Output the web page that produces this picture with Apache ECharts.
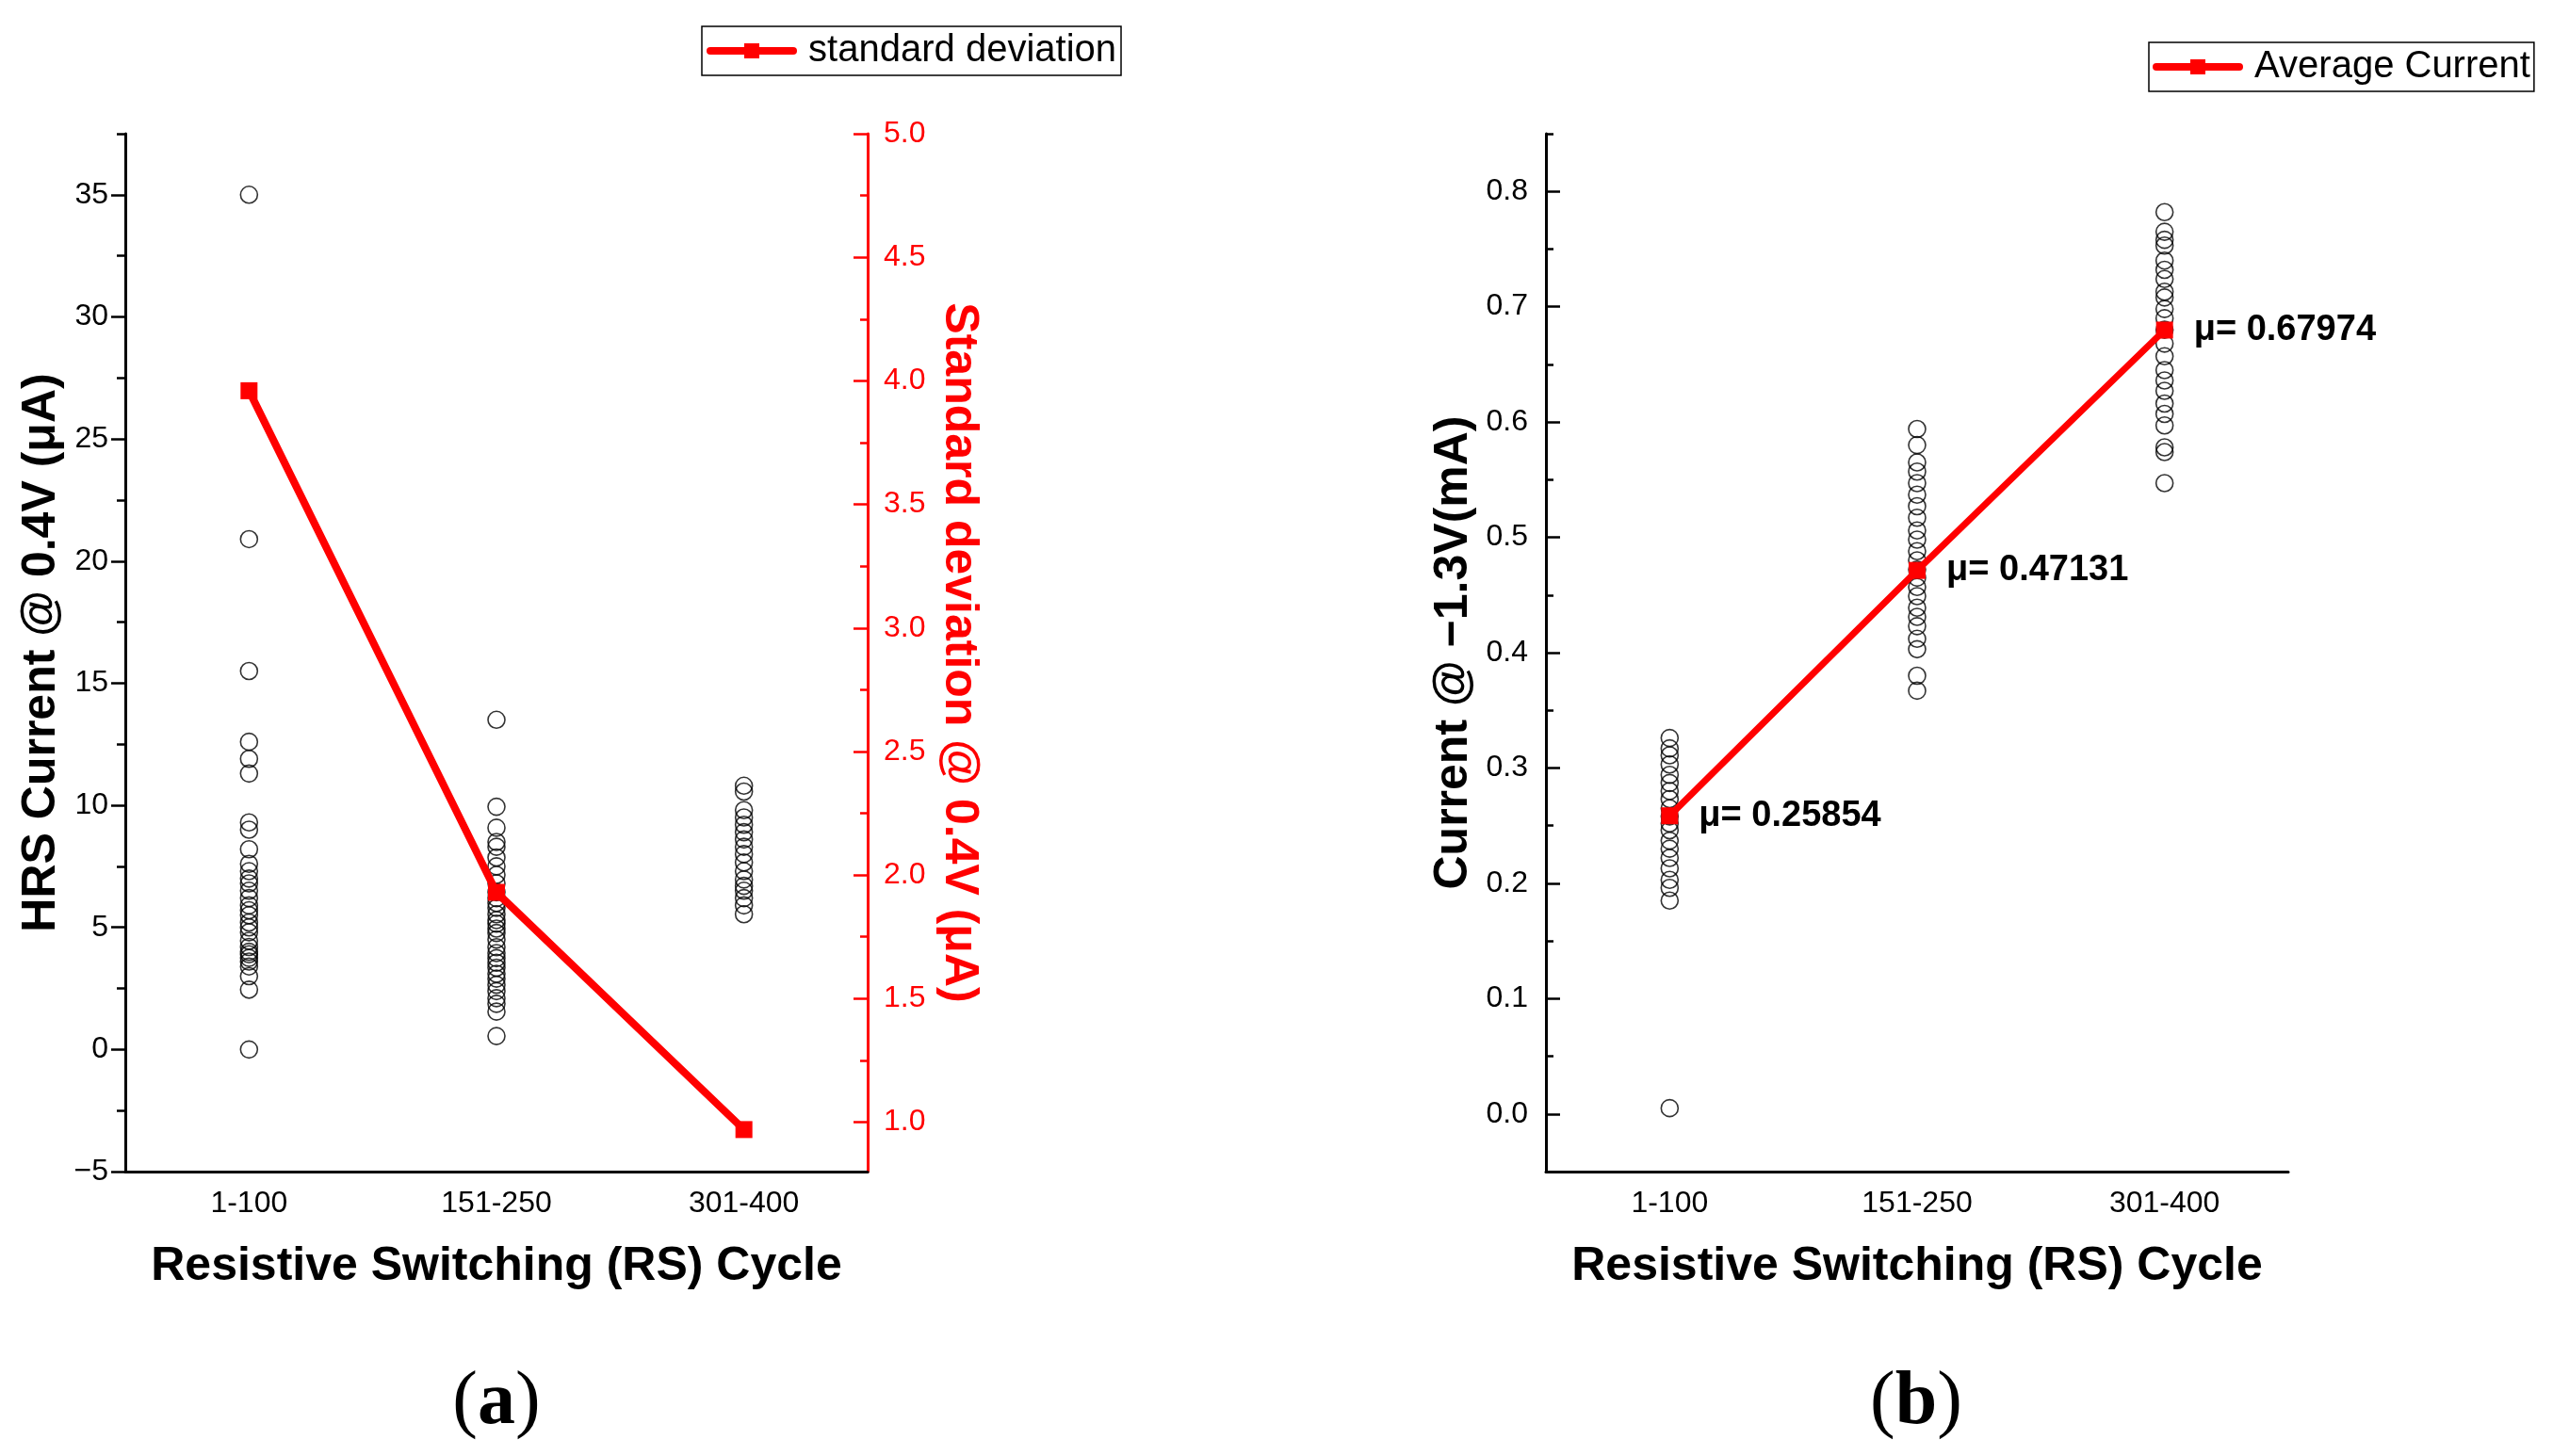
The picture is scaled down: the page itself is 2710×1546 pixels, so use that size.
<!DOCTYPE html>
<html>
<head>
<meta charset="utf-8">
<title>HRS current and average current vs RS cycle</title>
<script src="https://cdn.jsdelivr.net/npm/echarts@6/dist/echarts.min.js"></script>
<style>
  html, body { margin: 0; padding: 0; background: #fff; }
  #chart { width: 2710px; height: 1546px; }
</style>
</head>
<body>
<div id="chart"></div>
<script>
// categories (RS cycle ranges)
const cycles = ['1-100', '151-250', '301-400'];

// (a) HRS current @ 0.4V (uA), one list per cycle range
const hrsCycle1 = [35.0, 20.9, 15.5, 12.6, 11.9, 11.3, 9.3, 9.0, 8.2, 7.6, 7.3, 7.0, 6.8, 6.5, 6.2, 5.9, 5.7, 5.5, 5.2, 5.0, 4.8, 4.45, 4.2, 4.0, 3.9, 3.75, 3.6, 3.4, 3.0, 2.45, 0.0];
const hrsCycle2 = [13.5, 9.94, 9.08, 8.5, 8.3, 7.86, 7.5, 7.15, 6.8, 6.44, 6.2, 6.0, 5.8, 5.54, 5.3, 5.15, 4.95, 4.77, 4.5, 4.19, 3.95, 3.74, 3.55, 3.35, 3.1, 2.9, 2.65, 2.39, 2.1, 1.87, 1.55, 0.55];
const hrsCycle3 = [10.8, 10.56, 9.8, 9.5, 9.2, 8.9, 8.6, 8.3, 8.0, 7.66, 7.3, 6.96, 6.7, 6.5, 6.2, 5.9, 5.54];
const stdDev = [3.96, 1.93, 0.97];

// (b) current @ -1.3V (mA)
const curCycle1 = [0.326, 0.317, 0.311, 0.303, 0.294, 0.287, 0.280, 0.273, 0.265, 0.258, 0.252, 0.246, 0.237, 0.230, 0.222, 0.213, 0.203, 0.196, 0.185, 0.005];
const curCycle2 = [0.594, 0.580, 0.565, 0.557, 0.547, 0.537, 0.527, 0.517, 0.506, 0.498, 0.488, 0.480, 0.472, 0.465, 0.457, 0.449, 0.439, 0.431, 0.423, 0.412, 0.403, 0.380, 0.367];
const curCycle3 = [0.782, 0.765, 0.758, 0.753, 0.740, 0.732, 0.724, 0.713, 0.708, 0.698, 0.690, 0.680, 0.668, 0.657, 0.645, 0.636, 0.627, 0.616, 0.607, 0.597, 0.578, 0.574, 0.547];
const avgCurrent = [0.25854, 0.47131, 0.67974];

// tick values
const hrsTicks = [-5, 0, 5, 10, 15, 20, 25, 30, 35];
const hrsMinorTicks = [-2.5, 2.5, 7.5, 12.5, 17.5, 22.5, 27.5, 32.5, 37.5];
const stdTicks = [1.0, 1.5, 2.0, 2.5, 3.0, 3.5, 4.0, 4.5, 5.0];
const stdMinorTicks = [1.25, 1.75, 2.25, 2.75, 3.25, 3.75, 4.25, 4.75];
const curTicks = [0.0, 0.1, 0.2, 0.3, 0.4, 0.5, 0.6, 0.7, 0.8];
const curMinorTicks = [0.05, 0.15, 0.25, 0.35, 0.45, 0.55, 0.65, 0.75, 0.85];

const FONT = '"Liberation Sans", Arial, sans-serif';
const SERIF = '"Liberation Serif", "Times New Roman", serif';
const RED = '#ff0000';

function toPoints(groups) {
  let out = [];
  groups.forEach((arr, i) => arr.forEach(v => out.push([i, v])));
  return out;
}

function catAxis(gridIndex) {
  return {
    type: 'category',
    gridIndex,
    data: cycles,
    boundaryGap: true,
    name: 'Resistive Switching (RS) Cycle',
    nameLocation: 'middle',
    nameGap: 76,
    nameTextStyle: { fontFamily: FONT, fontSize: 50, fontWeight: 'bold', color: '#000' },
    axisLine: { onZero: false, lineStyle: { color: '#000', width: 3 } },
    axisTick: { alignWithLabel: true, inside: true, length: 15, lineStyle: { color: '#000', width: 2.5 } },
    axisLabel: { fontFamily: FONT, fontSize: 32, color: '#000', margin: 18 },
    splitLine: { show: false }
  };
}

function minorAxis(gridIndex, position, min, max, values, inside, length, color) {
  return {
    type: 'value',
    gridIndex,
    position,
    min,
    max,
    axisLine: { show: false },
    axisLabel: { show: false },
    axisTick: { show: true, inside, length, customValues: values, lineStyle: { color, width: 2.5 } },
    splitLine: { show: false }
  };
}

function caption(letter, x) {
  return {
    type: 'text', x, y: 1490,
    style: {
      text: '{p|(}{l|' + letter + '}{p|)}',
      align: 'center', verticalAlign: 'middle',
      rich: {
        p: { fontFamily: SERIF, fontSize: 80, color: '#000' },
        l: { fontFamily: SERIF, fontSize: 80, fontWeight: 'bold', color: '#000' }
      }
    }
  };
}

const minusFmt = v => String(v).replace('-', '\u2212');
const oneDecFmt = v => v.toFixed(1);

const legendBase = {
  borderColor: '#000', borderWidth: 1.5,
  itemWidth: 88, itemHeight: 20,
  formatter: name => ' ' + name,
  lineStyle: { width: 8, cap: 'round' },
  textStyle: { fontFamily: FONT, fontSize: 40, color: '#000' }
};

const chart = echarts.init(document.getElementById('chart'));
chart.setOption({
  backgroundColor: '#fff',
  animation: false,
  grid: [
    { left: 133, top: 142, width: 788, height: 1102 },
    { left: 1641, top: 142, width: 788, height: 1102 }
  ],
  legend: [
    Object.assign({ data: ['standard deviation'], left: 745, top: 28, padding: [6, 5] }, legendBase),
    Object.assign({ data: ['Average Current'], left: 2281, top: 45, padding: [6, 4] }, legendBase)
  ],
  xAxis: [catAxis(0), catAxis(1)],
  yAxis: [
    {
      type: 'value', gridIndex: 0, position: 'left',
      min: -5, max: 37.5,
      name: 'HRS Current @ 0.4V (\u03bcA)',
      nameLocation: 'middle', nameGap: 64,
      nameTextStyle: { fontFamily: FONT, fontSize: 50, fontWeight: 'bold', color: '#000' },
      axisLine: { show: true, onZero: false, lineStyle: { color: '#000', width: 3 } },
      axisTick: { show: true, inside: false, length: 15, customValues: hrsTicks, lineStyle: { color: '#000', width: 2.5 } },
      axisLabel: { customValues: hrsTicks, formatter: minusFmt, fontFamily: FONT, fontSize: 32, color: '#000', margin: 18 },
      splitLine: { show: false }
    },
    {
      type: 'value', gridIndex: 0, position: 'right',
      min: 0.8, max: 5.0,
      name: 'Standard deviation @ 0.4V (\u03bcA)',
      nameLocation: 'middle', nameGap: 72, nameRotate: -90,
      nameTextStyle: { fontFamily: FONT, fontSize: 50, fontWeight: 'bold', color: RED },
      axisLine: { show: true, onZero: false, lineStyle: { color: RED, width: 3 } },
      axisTick: { show: true, inside: true, length: 15, customValues: stdTicks, lineStyle: { color: RED, width: 2.5 } },
      axisLabel: { customValues: stdTicks, formatter: oneDecFmt, fontFamily: FONT, fontSize: 32, color: RED, margin: 17 },
      splitLine: { show: false }
    },
    {
      type: 'value', gridIndex: 1, position: 'left',
      min: -0.05, max: 0.85,
      name: 'Current @ \u22121.3V(mA)',
      nameLocation: 'middle', nameGap: 73,
      nameTextStyle: { fontFamily: FONT, fontSize: 50, fontWeight: 'bold', color: '#000' },
      axisLine: { show: true, onZero: false, lineStyle: { color: '#000', width: 3 } },
      axisTick: { show: true, inside: true, length: 15, customValues: curTicks, lineStyle: { color: '#000', width: 2.5 } },
      axisLabel: { customValues: curTicks, formatter: oneDecFmt, fontFamily: FONT, fontSize: 32, color: '#000', margin: 19 },
      splitLine: { show: false }
    },
    minorAxis(0, 'left', -5, 37.5, hrsMinorTicks, false, 9, '#000'),
    minorAxis(0, 'right', 0.8, 5.0, stdMinorTicks, true, 8, RED),
    minorAxis(1, 'left', -0.05, 0.85, curMinorTicks, true, 8, '#000')
  ],
  series: [
    {
      name: 'HRS current',
      type: 'scatter',
      xAxisIndex: 0, yAxisIndex: 0,
      data: toPoints([hrsCycle1, hrsCycle2, hrsCycle3]),
      symbol: 'circle', symbolSize: 18,
      itemStyle: { color: 'rgba(0,0,0,0)', borderColor: '#000', borderWidth: 1.6 },
      z: 2
    },
    {
      name: 'standard deviation',
      type: 'line',
      xAxisIndex: 0, yAxisIndex: 1,
      data: stdDev,
      symbol: 'rect', symbolSize: 18,
      lineStyle: { color: RED, width: 8 },
      itemStyle: { color: RED },
      z: 3
    },
    {
      name: 'Current',
      type: 'scatter',
      xAxisIndex: 1, yAxisIndex: 2,
      data: toPoints([curCycle1, curCycle2, curCycle3]),
      symbol: 'circle', symbolSize: 18,
      itemStyle: { color: 'rgba(0,0,0,0)', borderColor: '#000', borderWidth: 1.6 },
      z: 2
    },
    {
      name: 'Average Current',
      type: 'line',
      xAxisIndex: 1, yAxisIndex: 2,
      data: avgCurrent,
      symbol: 'rect', symbolSize: 18,
      lineStyle: { color: RED, width: 7 },
      itemStyle: { color: RED },
      label: {
        show: true, position: 'right', distance: 22,
        formatter: p => '\u03bc= ' + p.value,
        fontFamily: FONT, fontSize: 38, fontWeight: 'bold', color: '#000'
      },
      z: 3
    }
  ],
  graphic: [caption('a', 527), caption('b', 2034)]
});
</script>
</body>
</html>
